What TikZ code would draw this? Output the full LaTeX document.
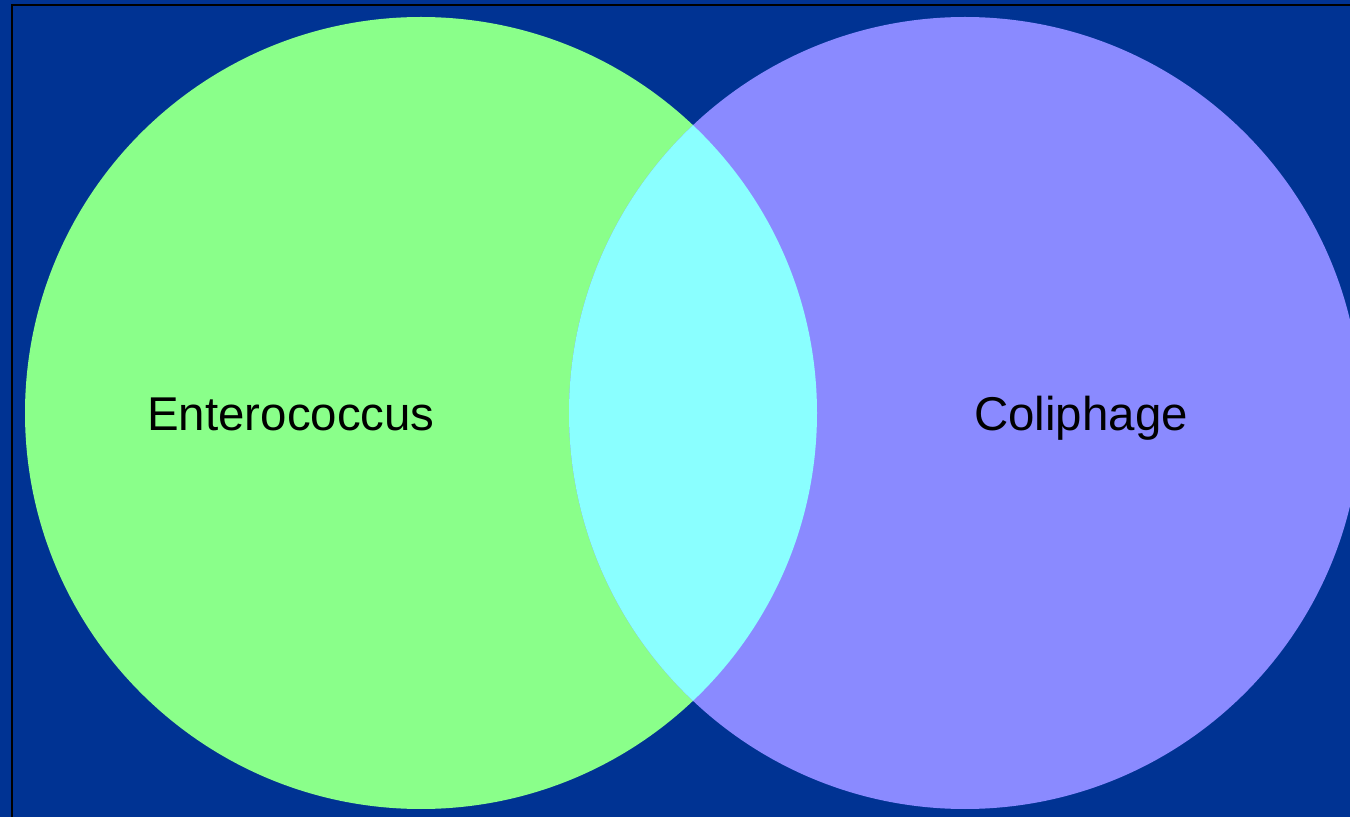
\documentclass[tikz,border=0pt]{standalone}
\usepackage{fontspec}
\setmainfont{Liberation Sans}
\usepackage{xcolor}
\usetikzlibrary{positioning}
\definecolor{slideblue}{HTML}{003393}
\definecolor{entgreen}{HTML}{8AFF8A}
\definecolor{colblue}{HTML}{8A8AFF}
\definecolor{overlapcyan}{HTML}{8AFFFF}
\tikzset{
  setlabel/.style={font=\fontsize{27}{32}\selectfont, text=black, inner sep=0pt, anchor=base},
  frame/.style={draw=black, line width=1.5pt}
}

\begin{document}
\begin{tikzpicture}[x=0.02cm, y=-0.02cm]

  \useasboundingbox (0,0) rectangle (1350,817);
  \fill[slideblue] (0,0) rectangle (1350,817);
  \draw[frame] (12,5) rectangle (1370,840);

  % the two sets
  \fill[entgreen] (421,413) circle (396);
  \fill[colblue]  (965,413) circle (396);

  % overlap
  \begin{scope}
    \clip (421,413) circle (396);
    \fill[overlapcyan] (965,413) circle (396);
  \end{scope}

  \node[setlabel] (entero) at (291,431) {Enterococcus};
  \node[setlabel] (coli)   at (1081,431) {Coliphage};

\end{tikzpicture}
\end{document}
